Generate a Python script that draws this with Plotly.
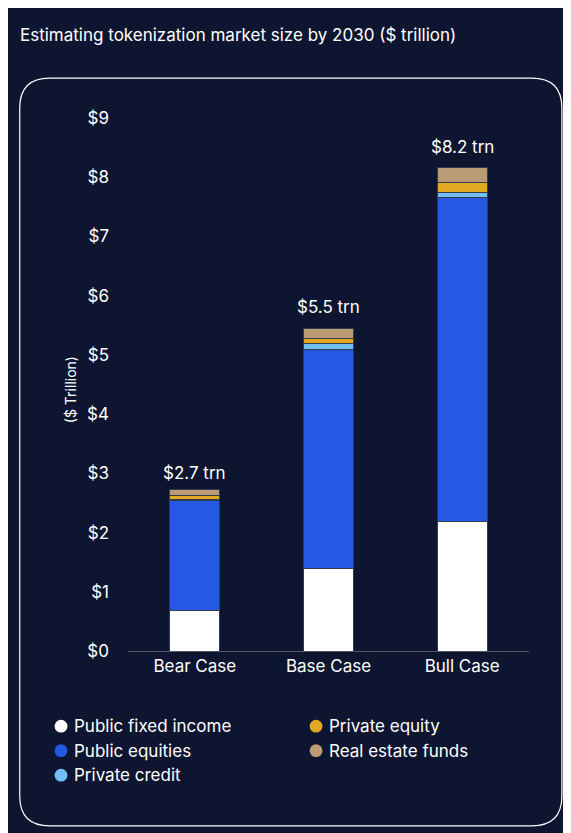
import plotly.graph_objects as go

cases = ["Bear Case", "Base Case", "Bull Case"]
public_fixed_income = [0.69, 1.39, 2.18]
public_equities = [1.85, 3.70, 5.47]
private_credit = [0.01, 0.10, 0.09]
private_equity = [0.08, 0.09, 0.17]
real_estate_funds = [0.09, 0.16, 0.26]
totals = [2.7, 5.5, 8.2]
total_labels = ["$2.7 trn", "$5.5 trn", "$8.2 trn"]
y_ticks = list(range(10))
y_tick_text = ["$%d" % v for v in y_ticks]

BG = "#0e1530"
series = [
    ("Public fixed income", public_fixed_income, "#ffffff"),
    ("Public equities", public_equities, "#2659e3"),
    ("Private credit", private_credit, "#72bff5"),
    ("Private equity", private_equity, "#e3a823"),
    ("Real estate funds", real_estate_funds, "#bb9b75"),
]
# legend slot (column, row) for each series, as in the original
legend_slots = [(0, 0), (0, 1), (0, 2), (1, 0), (1, 1)]

fig = go.Figure()
for name, vals, color in series:
    fig.add_trace(go.Bar(x=cases, y=vals, name=name, marker_color=color,
                         marker_line=dict(color="#333a4a", width=1),
                         width=0.375, showlegend=False))

for c, t, lab in zip(cases, totals, total_labels):
    fig.add_annotation(x=c, y=t, text=lab, showarrow=False, yshift=18,
                       font=dict(size=17, color="white"))

# manual two-column legend
for (name, vals, color), (col, row) in zip(series, legend_slots):
    x0 = -0.167 + col * 0.636
    y0 = -0.141 - row * 0.046
    fig.add_shape(type="circle", xref="paper", yref="paper",
                  x0=x0 - 0.016, x1=x0 + 0.016, y0=y0 - 0.012, y1=y0 + 0.012,
                  fillcolor=color, line_width=0)
    fig.add_annotation(text=name, xref="paper", yref="paper", x=x0 + 0.027, y=y0,
                       xanchor="left", yanchor="middle", showarrow=False,
                       font=dict(size=17, color="white"))

fig.add_annotation(text="Estimating tokenization market size by 2030 ($ trillion)",
                   xref="paper", yref="paper", x=-0.274, y=1.156, xanchor="left",
                   yanchor="middle", showarrow=False, font=dict(size=17, color="white"))
fig.add_annotation(text="($ Trillion)", xref="paper", yref="paper", x=-0.17, y=0.49,
                   textangle=-90, showarrow=False, font=dict(size=14, color="white"))

fig.add_shape(type="path", xref="paper", yref="paper", layer="below",
              path="M -0.195,-0.328 L 1.007,-0.328 Q 1.082,-0.328 1.082,-0.272 "
                   "L 1.082,1.019 Q 1.082,1.075 1.007,1.075 L -0.195,1.075 "
                   "Q -0.27,1.075 -0.27,1.019 L -0.27,-0.272 Q -0.27,-0.328 -0.195,-0.328 Z",
              line=dict(color="white", width=1.2))

fig.update_layout(
    barmode="stack", width=571, height=833, paper_bgcolor=BG, plot_bgcolor=BG,
    margin=dict(l=120, r=50, t=110, b=190), showlegend=False,
    font=dict(family="Inter, Noto Sans, sans-serif", color="white"),
    xaxis=dict(showgrid=False, showline=True, linecolor="#555a6a", ticks="",
               tickfont=dict(size=17), range=[-0.5, 2.5]),
    yaxis=dict(range=[0, 9], tickvals=y_ticks, ticktext=y_tick_text, showgrid=False,
               zeroline=False, tickfont=dict(size=17), ticklabelstandoff=18),
)
fig.write_html("out.html")
